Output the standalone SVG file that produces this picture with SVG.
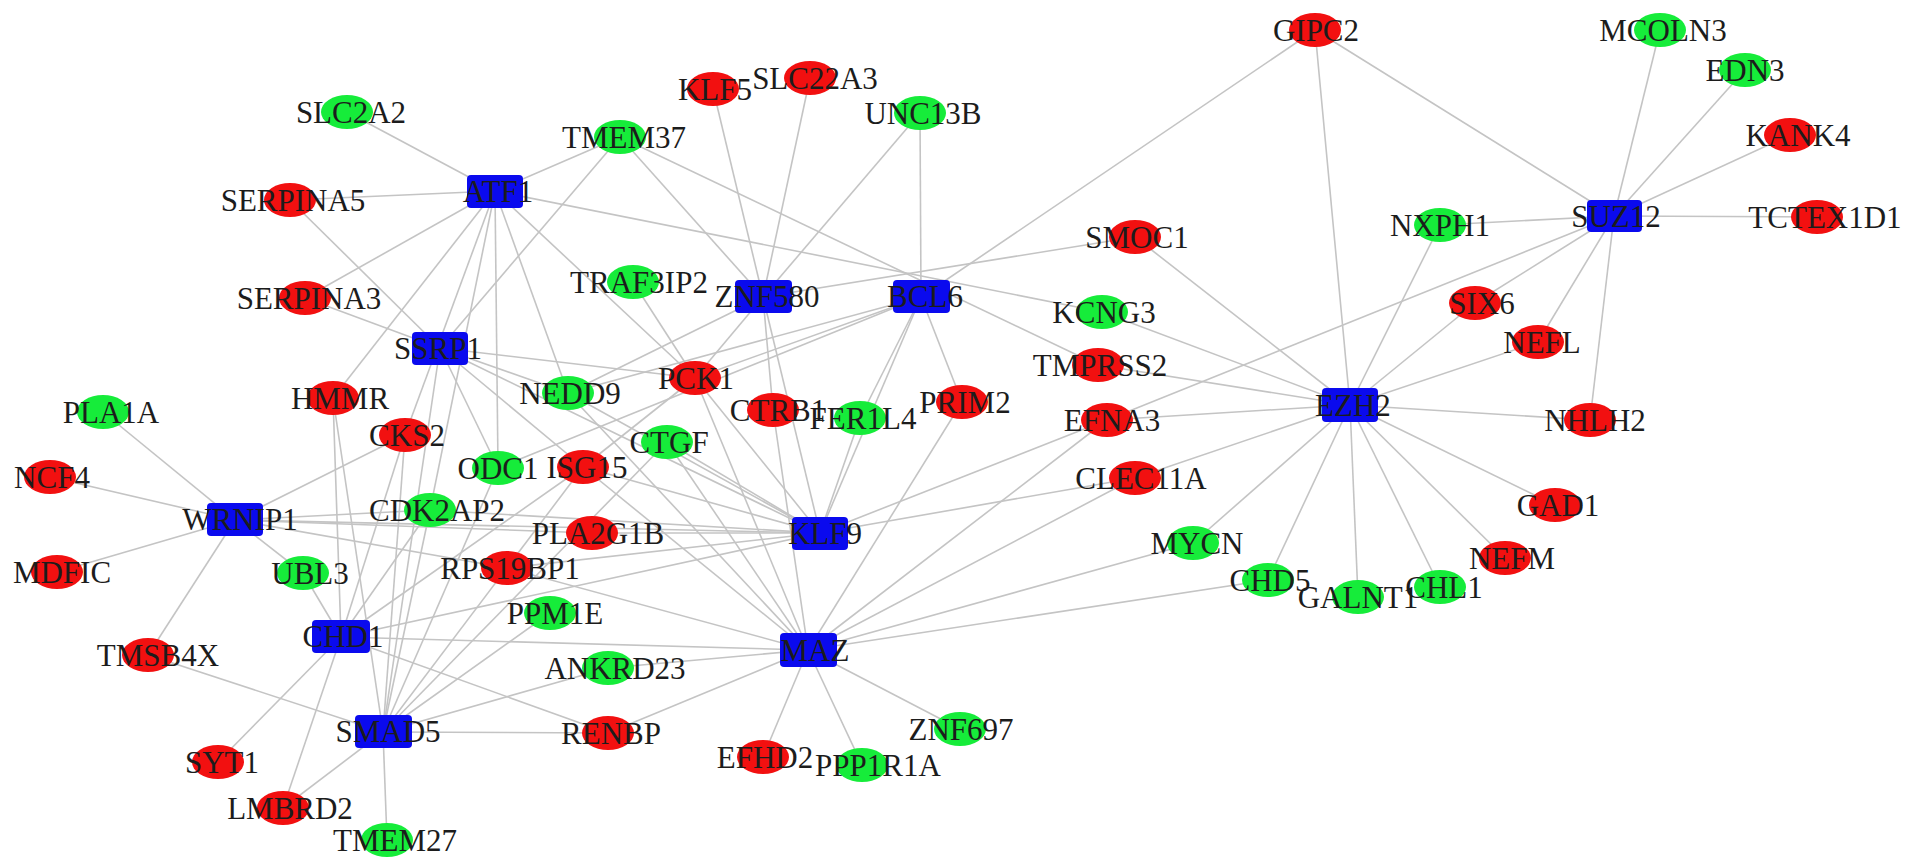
<svg xmlns="http://www.w3.org/2000/svg" width="1913" height="868" viewBox="0 0 1913 868">
<style>
.e{stroke:#c4c4c4;stroke-width:1.6;fill:none}
.r{fill:#f21010}
.g{fill:#16ec3a}
.b{fill:#0a0aee}
text{font-family:"Liberation Serif","Times New Roman",serif;font-size:31px;fill:#1c1c1c;text-anchor:middle}
</style>
<rect width="1913" height="868" fill="#ffffff"/>
<g id="connectors">
<line class="e" x1="495" y1="191" x2="347" y2="112"/>
<line class="e" x1="495" y1="191" x2="290" y2="200"/>
<line class="e" x1="495" y1="191" x2="305" y2="298"/>
<line class="e" x1="495" y1="191" x2="620" y2="137"/>
<line class="e" x1="495" y1="191" x2="1102" y2="312"/>
<line class="e" x1="495" y1="191" x2="333" y2="398"/>
<line class="e" x1="495" y1="191" x2="405" y2="435"/>
<line class="e" x1="495" y1="191" x2="430" y2="510"/>
<line class="e" x1="495" y1="191" x2="498" y2="468"/>
<line class="e" x1="495" y1="191" x2="568" y2="393"/>
<line class="e" x1="495" y1="191" x2="695" y2="378"/>
<line class="e" x1="440" y1="348" x2="290" y2="200"/>
<line class="e" x1="440" y1="348" x2="305" y2="298"/>
<line class="e" x1="440" y1="348" x2="620" y2="137"/>
<line class="e" x1="440" y1="348" x2="695" y2="378"/>
<line class="e" x1="440" y1="348" x2="568" y2="393"/>
<line class="e" x1="440" y1="348" x2="498" y2="468"/>
<line class="e" x1="440" y1="348" x2="583" y2="467"/>
<line class="e" x1="440" y1="348" x2="383" y2="732"/>
<line class="e" x1="440" y1="348" x2="820" y2="533"/>
<line class="e" x1="620" y1="137" x2="1098" y2="365"/>
<line class="e" x1="763" y1="297" x2="713" y2="89"/>
<line class="e" x1="763" y1="297" x2="810" y2="78"/>
<line class="e" x1="763" y1="297" x2="920" y2="113"/>
<line class="e" x1="763" y1="297" x2="620" y2="137"/>
<line class="e" x1="763" y1="297" x2="695" y2="378"/>
<line class="e" x1="763" y1="297" x2="568" y2="393"/>
<line class="e" x1="763" y1="297" x2="773" y2="410"/>
<line class="e" x1="763" y1="297" x2="820" y2="533"/>
<line class="e" x1="763" y1="297" x2="1135" y2="237"/>
<line class="e" x1="921" y1="297" x2="920" y2="113"/>
<line class="e" x1="921" y1="297" x2="1315" y2="30"/>
<line class="e" x1="921" y1="297" x2="568" y2="393"/>
<line class="e" x1="921" y1="297" x2="695" y2="378"/>
<line class="e" x1="921" y1="297" x2="860" y2="418"/>
<line class="e" x1="921" y1="297" x2="962" y2="402"/>
<line class="e" x1="921" y1="297" x2="820" y2="533"/>
<line class="e" x1="921" y1="297" x2="498" y2="468"/>
<line class="e" x1="633" y1="282" x2="695" y2="378"/>
<line class="e" x1="695" y1="378" x2="820" y2="533"/>
<line class="e" x1="695" y1="378" x2="583" y2="467"/>
<line class="e" x1="235" y1="520" x2="103" y2="412"/>
<line class="e" x1="235" y1="520" x2="50" y2="477"/>
<line class="e" x1="235" y1="520" x2="57" y2="572"/>
<line class="e" x1="235" y1="520" x2="148" y2="655"/>
<line class="e" x1="235" y1="520" x2="303" y2="573"/>
<line class="e" x1="235" y1="520" x2="405" y2="435"/>
<line class="e" x1="235" y1="520" x2="430" y2="510"/>
<line class="e" x1="235" y1="520" x2="820" y2="533"/>
<line class="e" x1="235" y1="520" x2="592" y2="533"/>
<line class="e" x1="235" y1="520" x2="507" y2="568"/>
<line class="e" x1="341" y1="637" x2="303" y2="573"/>
<line class="e" x1="341" y1="637" x2="333" y2="398"/>
<line class="e" x1="341" y1="637" x2="405" y2="435"/>
<line class="e" x1="341" y1="637" x2="583" y2="467"/>
<line class="e" x1="341" y1="637" x2="218" y2="762"/>
<line class="e" x1="341" y1="637" x2="283" y2="808"/>
<line class="e" x1="341" y1="637" x2="608" y2="733"/>
<line class="e" x1="341" y1="637" x2="820" y2="533"/>
<line class="e" x1="341" y1="637" x2="430" y2="510"/>
<line class="e" x1="341" y1="637" x2="808" y2="650"/>
<line class="e" x1="383" y1="732" x2="148" y2="655"/>
<line class="e" x1="383" y1="732" x2="283" y2="808"/>
<line class="e" x1="383" y1="732" x2="387" y2="840"/>
<line class="e" x1="383" y1="732" x2="608" y2="733"/>
<line class="e" x1="383" y1="732" x2="608" y2="668"/>
<line class="e" x1="383" y1="732" x2="550" y2="613"/>
<line class="e" x1="383" y1="732" x2="583" y2="467"/>
<line class="e" x1="383" y1="732" x2="667" y2="442"/>
<line class="e" x1="383" y1="732" x2="498" y2="468"/>
<line class="e" x1="383" y1="732" x2="430" y2="510"/>
<line class="e" x1="383" y1="732" x2="333" y2="398"/>
<line class="e" x1="383" y1="732" x2="405" y2="435"/>
<line class="e" x1="820" y1="533" x2="860" y2="418"/>
<line class="e" x1="820" y1="533" x2="667" y2="442"/>
<line class="e" x1="820" y1="533" x2="583" y2="467"/>
<line class="e" x1="820" y1="533" x2="568" y2="393"/>
<line class="e" x1="820" y1="533" x2="592" y2="533"/>
<line class="e" x1="820" y1="533" x2="507" y2="568"/>
<line class="e" x1="820" y1="533" x2="430" y2="510"/>
<line class="e" x1="820" y1="533" x2="1107" y2="420"/>
<line class="e" x1="820" y1="533" x2="1135" y2="478"/>
<line class="e" x1="808" y1="650" x2="1107" y2="420"/>
<line class="e" x1="808" y1="650" x2="1135" y2="478"/>
<line class="e" x1="808" y1="650" x2="1193" y2="543"/>
<line class="e" x1="808" y1="650" x2="1268" y2="580"/>
<line class="e" x1="808" y1="650" x2="763" y2="757"/>
<line class="e" x1="808" y1="650" x2="862" y2="765"/>
<line class="e" x1="808" y1="650" x2="960" y2="729"/>
<line class="e" x1="808" y1="650" x2="608" y2="733"/>
<line class="e" x1="808" y1="650" x2="608" y2="668"/>
<line class="e" x1="808" y1="650" x2="507" y2="568"/>
<line class="e" x1="808" y1="650" x2="667" y2="442"/>
<line class="e" x1="808" y1="650" x2="695" y2="378"/>
<line class="e" x1="808" y1="650" x2="773" y2="410"/>
<line class="e" x1="808" y1="650" x2="962" y2="402"/>
<line class="e" x1="808" y1="650" x2="568" y2="393"/>
<line class="e" x1="808" y1="650" x2="583" y2="467"/>
<line class="e" x1="1350" y1="405" x2="1315" y2="30"/>
<line class="e" x1="1350" y1="405" x2="1440" y2="225"/>
<line class="e" x1="1350" y1="405" x2="1475" y2="303"/>
<line class="e" x1="1350" y1="405" x2="1538" y2="342"/>
<line class="e" x1="1350" y1="405" x2="1590" y2="420"/>
<line class="e" x1="1350" y1="405" x2="1555" y2="505"/>
<line class="e" x1="1350" y1="405" x2="1505" y2="558"/>
<line class="e" x1="1350" y1="405" x2="1440" y2="587"/>
<line class="e" x1="1350" y1="405" x2="1358" y2="597"/>
<line class="e" x1="1350" y1="405" x2="1268" y2="580"/>
<line class="e" x1="1350" y1="405" x2="1193" y2="543"/>
<line class="e" x1="1350" y1="405" x2="1135" y2="478"/>
<line class="e" x1="1350" y1="405" x2="1107" y2="420"/>
<line class="e" x1="1350" y1="405" x2="1098" y2="365"/>
<line class="e" x1="1350" y1="405" x2="1102" y2="312"/>
<line class="e" x1="1350" y1="405" x2="1135" y2="237"/>
<line class="e" x1="1614" y1="216" x2="1660" y2="30"/>
<line class="e" x1="1614" y1="216" x2="1745" y2="70"/>
<line class="e" x1="1614" y1="216" x2="1790" y2="135"/>
<line class="e" x1="1614" y1="216" x2="1817" y2="217"/>
<line class="e" x1="1614" y1="216" x2="1440" y2="225"/>
<line class="e" x1="1614" y1="216" x2="1315" y2="30"/>
<line class="e" x1="1614" y1="216" x2="1107" y2="420"/>
<line class="e" x1="1614" y1="216" x2="1475" y2="303"/>
<line class="e" x1="1614" y1="216" x2="1538" y2="342"/>
<line class="e" x1="1614" y1="216" x2="1590" y2="420"/>
</g>
<g id="n-SLC2A2"><ellipse class="g" cx="347" cy="112" rx="26" ry="17"/><text x="351" y="123">SLC2A2</text></g>
<g id="n-SERPINA5"><ellipse class="r" cx="290" cy="200" rx="26" ry="17"/><text x="293" y="211">SERPINA5</text></g>
<g id="n-SERPINA3"><ellipse class="r" cx="305" cy="298" rx="26" ry="17"/><text x="309" y="309">SERPINA3</text></g>
<g id="n-TMEM37"><ellipse class="g" cx="620" cy="137" rx="26" ry="17"/><text x="624" y="148">TMEM37</text></g>
<g id="n-KLF5"><ellipse class="r" cx="713" cy="89" rx="26" ry="17"/><text x="715" y="100">KLF5</text></g>
<g id="n-SLC22A3"><ellipse class="r" cx="810" cy="78" rx="26" ry="17"/><text x="815" y="89">SLC22A3</text></g>
<g id="n-UNC13B"><ellipse class="g" cx="920" cy="113" rx="26" ry="17"/><text x="923" y="124">UNC13B</text></g>
<g id="n-TRAF3IP2"><ellipse class="g" cx="633" cy="282" rx="26" ry="17"/><text x="639" y="293">TRAF3IP2</text></g>
<g id="n-HMMR"><ellipse class="r" cx="333" cy="398" rx="26" ry="17"/><text x="340" y="409">HMMR</text></g>
<g id="n-NEDD9"><ellipse class="g" cx="568" cy="393" rx="26" ry="17"/><text x="570" y="404">NEDD9</text></g>
<g id="n-PCK1"><ellipse class="r" cx="695" cy="378" rx="26" ry="17"/><text x="696" y="389">PCK1</text></g>
<g id="n-PRIM2"><ellipse class="r" cx="962" cy="402" rx="26" ry="17"/><text x="965" y="413">PRIM2</text></g>
<g id="n-CTRB1"><ellipse class="r" cx="773" cy="410" rx="26" ry="17"/><text x="778" y="421">CTRB1</text></g>
<g id="n-FER1L4"><ellipse class="g" cx="860" cy="418" rx="26" ry="17"/><text x="863" y="429">FER1L4</text></g>
<g id="n-CKS2"><ellipse class="r" cx="405" cy="435" rx="26" ry="17"/><text x="407" y="446">CKS2</text></g>
<g id="n-CTGF"><ellipse class="g" cx="667" cy="442" rx="26" ry="17"/><text x="669" y="453">CTGF</text></g>
<g id="n-ODC1"><ellipse class="g" cx="498" cy="468" rx="26" ry="17"/><text x="498" y="479">ODC1</text></g>
<g id="n-ISG15"><ellipse class="r" cx="583" cy="467" rx="26" ry="17"/><text x="587" y="478">ISG15</text></g>
<g id="n-PLA1A"><ellipse class="g" cx="103" cy="412" rx="26" ry="17"/><text x="111" y="423">PLA1A</text></g>
<g id="n-NCF4"><ellipse class="r" cx="50" cy="477" rx="26" ry="17"/><text x="52" y="488">NCF4</text></g>
<g id="n-CDK2AP2"><ellipse class="g" cx="430" cy="510" rx="26" ry="17"/><text x="437" y="521">CDK2AP2</text></g>
<g id="n-PLA2G1B"><ellipse class="r" cx="592" cy="533" rx="26" ry="17"/><text x="598" y="544">PLA2G1B</text></g>
<g id="n-MDFIC"><ellipse class="r" cx="57" cy="572" rx="26" ry="17"/><text x="62" y="583">MDFIC</text></g>
<g id="n-UBL3"><ellipse class="g" cx="303" cy="573" rx="26" ry="17"/><text x="310" y="584">UBL3</text></g>
<g id="n-RPS19BP1"><ellipse class="r" cx="507" cy="568" rx="26" ry="17"/><text x="510" y="579">RPS19BP1</text></g>
<g id="n-PPM1E"><ellipse class="g" cx="550" cy="613" rx="26" ry="17"/><text x="555" y="624">PPM1E</text></g>
<g id="n-TMSB4X"><ellipse class="r" cx="148" cy="655" rx="26" ry="17"/><text x="158" y="666">TMSB4X</text></g>
<g id="n-ANKRD23"><ellipse class="g" cx="608" cy="668" rx="26" ry="17"/><text x="615" y="679">ANKRD23</text></g>
<g id="n-RENBP"><ellipse class="r" cx="608" cy="733" rx="26" ry="17"/><text x="611" y="744">RENBP</text></g>
<g id="n-SYT1"><ellipse class="r" cx="218" cy="762" rx="26" ry="17"/><text x="222" y="773">SYT1</text></g>
<g id="n-LMBRD2"><ellipse class="r" cx="283" cy="808" rx="26" ry="17"/><text x="290" y="819">LMBRD2</text></g>
<g id="n-TMEM27"><ellipse class="g" cx="387" cy="840" rx="26" ry="17"/><text x="395" y="851">TMEM27</text></g>
<g id="n-EFHD2"><ellipse class="r" cx="763" cy="757" rx="26" ry="17"/><text x="765" y="768">EFHD2</text></g>
<g id="n-PPP1R1A"><ellipse class="g" cx="862" cy="765" rx="26" ry="17"/><text x="878" y="776">PPP1R1A</text></g>
<g id="n-ZNF697"><ellipse class="g" cx="960" cy="729" rx="26" ry="17"/><text x="961" y="740">ZNF697</text></g>
<g id="n-SMOC1"><ellipse class="r" cx="1135" cy="237" rx="26" ry="17"/><text x="1137" y="248">SMOC1</text></g>
<g id="n-GIPC2"><ellipse class="r" cx="1315" cy="30" rx="26" ry="17"/><text x="1316" y="41">GIPC2</text></g>
<g id="n-KCNG3"><ellipse class="g" cx="1102" cy="312" rx="26" ry="17"/><text x="1104" y="323">KCNG3</text></g>
<g id="n-TMPRSS2"><ellipse class="r" cx="1098" cy="365" rx="26" ry="17"/><text x="1100" y="376">TMPRSS2</text></g>
<g id="n-EFNA3"><ellipse class="r" cx="1107" cy="420" rx="26" ry="17"/><text x="1112" y="431">EFNA3</text></g>
<g id="n-CLEC11A"><ellipse class="r" cx="1135" cy="478" rx="26" ry="17"/><text x="1141" y="489">CLEC11A</text></g>
<g id="n-MYCN"><ellipse class="g" cx="1193" cy="543" rx="26" ry="17"/><text x="1197" y="554">MYCN</text></g>
<g id="n-CHD5"><ellipse class="g" cx="1268" cy="580" rx="26" ry="17"/><text x="1270" y="591">CHD5</text></g>
<g id="n-GALNT1"><ellipse class="g" cx="1358" cy="597" rx="26" ry="17"/><text x="1358" y="608">GALNT1</text></g>
<g id="n-CHL1"><ellipse class="g" cx="1440" cy="587" rx="26" ry="17"/><text x="1444" y="598">CHL1</text></g>
<g id="n-NEFM"><ellipse class="r" cx="1505" cy="558" rx="26" ry="17"/><text x="1512" y="569">NEFM</text></g>
<g id="n-GAD1"><ellipse class="r" cx="1555" cy="505" rx="26" ry="17"/><text x="1558" y="516">GAD1</text></g>
<g id="n-NHLH2"><ellipse class="r" cx="1590" cy="420" rx="26" ry="17"/><text x="1595" y="431">NHLH2</text></g>
<g id="n-NEFL"><ellipse class="r" cx="1538" cy="342" rx="26" ry="17"/><text x="1542" y="353">NEFL</text></g>
<g id="n-SIX6"><ellipse class="r" cx="1475" cy="303" rx="26" ry="17"/><text x="1482" y="314">SIX6</text></g>
<g id="n-NXPH1"><ellipse class="g" cx="1440" cy="225" rx="26" ry="17"/><text x="1440" y="236">NXPH1</text></g>
<g id="n-MCOLN3"><ellipse class="g" cx="1660" cy="30" rx="26" ry="17"/><text x="1663" y="41">MCOLN3</text></g>
<g id="n-EDN3"><ellipse class="g" cx="1745" cy="70" rx="26" ry="17"/><text x="1745" y="81">EDN3</text></g>
<g id="n-KANK4"><ellipse class="r" cx="1790" cy="135" rx="26" ry="17"/><text x="1798" y="146">KANK4</text></g>
<g id="n-TCTEX1D1"><ellipse class="r" cx="1817" cy="217" rx="26" ry="17"/><text x="1825" y="228">TCTEX1D1</text></g>
<g id="n-ATF1"><rect class="b" x="467" y="175" width="56" height="33" rx="4"/><text x="498" y="202">ATF1</text></g>
<g id="n-SSRP1"><rect class="b" x="412" y="332" width="56" height="33" rx="4"/><text x="438" y="359">SSRP1</text></g>
<g id="n-ZNF580"><rect class="b" x="735" y="280" width="57" height="33" rx="4"/><text x="767" y="307">ZNF580</text></g>
<g id="n-BCL6"><rect class="b" x="893" y="280" width="57" height="33" rx="4"/><text x="925" y="307">BCL6</text></g>
<g id="n-WRNIP1"><rect class="b" x="207" y="503" width="56" height="33" rx="4"/><text x="240" y="530">WRNIP1</text></g>
<g id="n-KLF9"><rect class="b" x="792" y="517" width="56" height="33" rx="4"/><text x="825" y="544">KLF9</text></g>
<g id="n-CHD1"><rect class="b" x="312" y="620" width="58" height="33" rx="4"/><text x="343" y="647">CHD1</text></g>
<g id="n-MAZ"><rect class="b" x="780" y="633" width="57" height="34" rx="4"/><text x="815" y="661">MAZ</text></g>
<g id="n-SMAD5"><rect class="b" x="355" y="715" width="57" height="33" rx="4"/><text x="388" y="742">SMAD5</text></g>
<g id="n-EZH2"><rect class="b" x="1322" y="388" width="56" height="34" rx="4"/><text x="1353" y="416">EZH2</text></g>
<g id="n-SUZ12"><rect class="b" x="1587" y="200" width="55" height="32" rx="4"/><text x="1616" y="227">SUZ12</text></g>
</svg>
